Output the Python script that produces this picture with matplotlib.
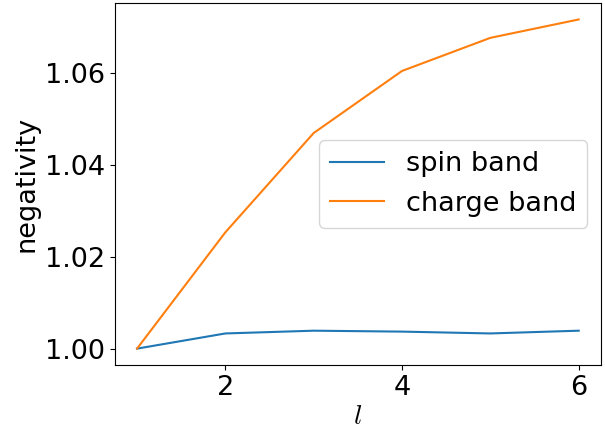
import matplotlib
matplotlib.use("Agg")
import matplotlib.pyplot as plt

l_values = [1, 2, 3, 4, 5, 6]
spin_band = [1.0000, 1.0033, 1.0039, 1.0037, 1.0033, 1.0039]
charge_band = [1.0000, 1.0253, 1.0469, 1.0604, 1.0676, 1.0716]

plt.rcParams["font.size"] = 19.5
plt.rcParams["mathtext.fontset"] = "cm"

fig, ax = plt.subplots(figsize=(6.05, 4.29), dpi=100)
fig.subplots_adjust(left=0.19, right=0.993, top=0.993, bottom=0.149)

ax.plot(l_values, spin_band, label="spin band")
ax.plot(l_values, charge_band, label="charge band")
ax.set_xlabel(r"$l$", labelpad=2)
ax.set_ylabel("negativity")
ax.set_xticks([2, 4, 6])
ax.set_yticks([1.00, 1.02, 1.04, 1.06])
ax.legend(loc="center right")

fig.savefig("out.png", dpi=100)
